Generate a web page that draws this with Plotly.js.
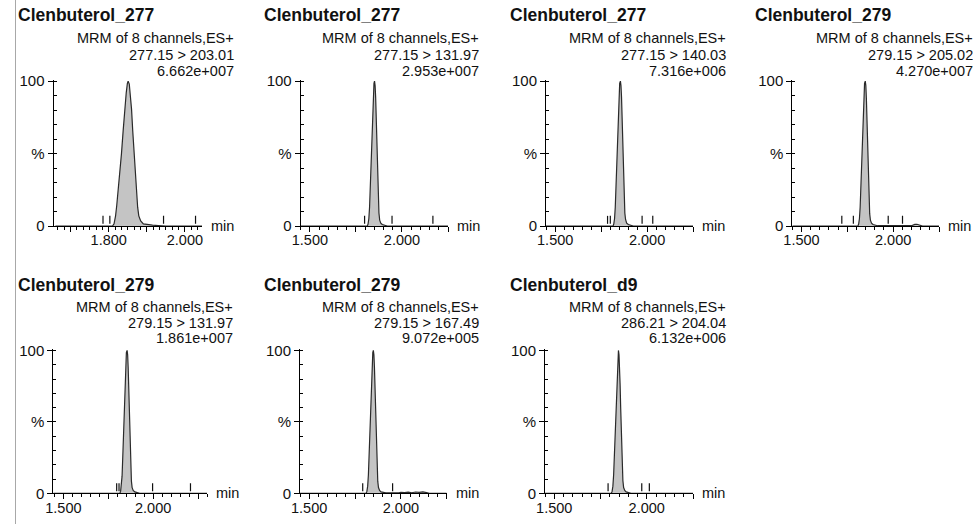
<!DOCTYPE html>
<html><head><meta charset="utf-8">
<script src="https://cdn.plot.ly/plotly-3.0.1.min.js"></script>
<style>html,body{margin:0;padding:0;background:#fff;} #chart{width:973px;height:524px;}</style>
</head><body><div id="chart"></div>
<script>
// ---- data ----
const compounds = ['Clenbuterol_277','Clenbuterol_277','Clenbuterol_277','Clenbuterol_279','Clenbuterol_279','Clenbuterol_279','Clenbuterol_d9'];
const transitions = ['277.15 > 203.01','277.15 > 131.97','277.15 > 140.03','279.15 > 205.02','279.15 > 131.97','279.15 > 167.49','286.21 > 204.04'];
const intensities = ['6.662e+007','2.953e+007','7.316e+006','4.270e+007','1.861e+007','9.072e+005','6.132e+006'];
const scanLabel = 'MRM of 8 channels,ES+';
const axisUnit = 'min';
const yTickVals = [0, 50, 100];
const yTickText = ['0', '%', '100'];
const xTickValsWide = [1.5, 1.75, 2.0, 2.25];
const xTickTextWide = ['1.500', '', '2.000', ''];
const xTickValsZoom = [1.7, 1.8, 1.9, 2.0];
const xTickTextZoom = ['', '1.800', '', '2.000'];

const rt1  = [1.660,1.810,1.814,1.818,1.821,1.8245,1.829,1.8335,1.838,1.842,1.846,1.849,1.851,1.854,1.857,1.860,1.863,1.867,1.870,1.873,1.876,1.879,1.884,1.891,1.900,1.915,1.930,1.950,2.045];
const pct1 = [0,0,1.5,7,14,23,36,50,66,80.5,92,98.5,100,98,91,80.5,66,50,35,23,13,7,3.5,1.5,1.0,0.6,0.3,0,0];
const marks1 = [1.785,1.803,1.944,2.028];

const rt2  = [1.450,1.812,1.816,1.820,1.824,1.828,1.832,1.836,1.840,1.844,1.848,1.851,1.854,1.857,1.860,1.863,1.866,1.869,1.872,1.875,1.879,1.885,1.893,1.905,1.920,2.250];
const pct2 = [0,0,1.5,5,13,27,44,62,78,91,98.5,100,97,89,76,60,43,28,17,9,4,2,1,0.5,0,0];
const marks2 = [1.797,1.946,2.168];

const rt3  = [1.450,1.815,1.819,1.823,1.827,1.831,1.835,1.839,1.843,1.847,1.851,1.855,1.858,1.861,1.864,1.867,1.870,1.873,1.876,1.879,1.883,1.889,1.898,1.912,1.925,2.250];
const pct3 = [0,0,1.5,5,13,27,45,63,79,91,98.5,100,97,89,76,60,43,28,17,9,4.5,2,1,0.5,0,0];
const marks3 = [1.785,1.800,1.973,2.031];

const rt4  = [1.450,1.808,1.812,1.816,1.820,1.824,1.828,1.832,1.836,1.840,1.844,1.848,1.851,1.854,1.857,1.860,1.863,1.866,1.869,1.872,1.876,1.882,1.890,1.902,1.915,2.100,2.108,2.118,2.130,2.142,2.152,2.160,2.250];
const pct4 = [0,0,1.5,5,13,27,45,63,79,91,98.5,100,97,88,75,59,42,27,16,8.5,4,2,1,0.5,0.2,0.2,0.8,1.1,1.2,0.9,0.3,0,0];
const marks4 = [1.720,1.783,1.973,2.051];

const rt5  = [1.444,1.815,1.819,1.823,1.827,1.831,1.835,1.839,1.843,1.847,1.851,1.855,1.858,1.861,1.864,1.867,1.870,1.873,1.876,1.879,1.883,1.889,1.898,1.910,1.925,2.300];
const pct5 = [0,0,1.5,5,12,26,44,62,78,91,98.5,100,97,88,75,59,42,27,16,8.5,4,2,1,0.5,0,0];
const marks5 = [1.797,1.810,1.997,2.208];

const rt6  = [1.450,1.811,1.815,1.819,1.823,1.827,1.831,1.835,1.839,1.843,1.847,1.850,1.853,1.856,1.859,1.862,1.865,1.868,1.871,1.874,1.878,1.884,1.892,1.904,1.918,1.990,2.000,2.020,2.040,2.060,2.080,2.100,2.120,2.140,2.155,2.250];
const pct6 = [0,0,1.5,5,13,27,45,63,79,91,98.5,100,97,88,75,59,42,27,16,8.5,4,2,1,0.6,0.3,0.3,0.7,0.5,0.8,0.4,0.9,0.6,1.0,0.5,0,0];
const marks6 = [1.792,1.955];

const rt7  = [1.450,1.809,1.813,1.817,1.821,1.825,1.829,1.833,1.837,1.841,1.844,1.847,1.850,1.853,1.856,1.859,1.862,1.865,1.868,1.871,1.875,1.881,1.889,1.900,1.915,2.250];
const pct7 = [0,0,1.5,5,13,27,45,63,79,91,98.5,100,97,89,76,60,43,28,17,9,4,2,1,0.5,0,0];
const marks7 = [1.791,1.973,2.014];

const rts = [rt1,rt2,rt3,rt4,rt5,rt6,rt7];
const pcts = [pct1,pct2,pct3,pct4,pct5,pct6,pct7];
const marks = [marks1,marks2,marks3,marks4,marks5,marks6,marks7];
const markLow = 1.5, markHigh = 7;

// ---- layout geometry (pixels) ----
const W = 973, H = 524;
const panels = [
  {x0:53.5, x1:202,   yTop:80,    yBot:226,   range:[1.655,2.045], zoom:true,  titleX:17,    infoR:235, rowY:[15,38,55,71]},
  {x0:300.7,x1:448,   yTop:80,    yBot:226,   range:[1.45,2.25],   zoom:false, titleX:262.7, infoR:480, rowY:[15,38,55,71]},
  {x0:546,  x1:693,   yTop:80,    yBot:226,   range:[1.45,2.25],   zoom:false, titleX:509,   infoR:727, rowY:[15,38,55,71]},
  {x0:792.3,x1:939,   yTop:80,    yBot:226,   range:[1.45,2.25],   zoom:false, titleX:754,   infoR:974, rowY:[15,38,55,71]},
  {x0:53.3, x1:207,   yTop:349.3, yBot:493.3, range:[1.444,2.30],  zoom:false, titleX:17,    infoR:234, rowY:[285,307,323,338]},
  {x0:300,  x1:446.7, yTop:349.3, yBot:493.3, range:[1.45,2.25],   zoom:false, titleX:262.7, infoR:480, rowY:[285,307,323,338]},
  {x0:545,  x1:693,   yTop:349.3, yBot:493.3, range:[1.45,2.25],   zoom:false, titleX:509.3, infoR:727, rowY:[285,307,323,338]}
];

const FONT = 'Liberation Sans, Arial, Helvetica, sans-serif';
const TXT = '#111111';
const traces = [];
const layout = {
  width: W, height: H, margin:{l:0,r:0,t:0,b:0},
  paper_bgcolor:'#ffffff', plot_bgcolor:'rgba(0,0,0,0)',
  showlegend:false, font:{family:FONT, color:TXT, size:14},
  annotations:[], shapes:[
    {type:'line', xref:'paper', yref:'paper', x0:15.5/W, x1:15.5/W, y0:0, y1:1, line:{color:'#a8a8a8', width:1}}
  ]
};

panels.forEach((p, i) => {
  const n = i + 1;
  const xa = n === 1 ? 'x' : 'x' + n;
  const ya = n === 1 ? 'y' : 'y' + n;
  traces.push({
    type:'scatter', mode:'lines', x: rts[i], y: pcts[i], xaxis: xa, yaxis: ya,
    fill:'tozeroy', fillcolor:'#c4c4c4', line:{color:'#2a2a2a', width:1.2}, hoverinfo:'skip'
  });
  const mx = [], my = [];
  marks[i].forEach(v => { mx.push(v, v, null); my.push(markLow, markHigh, null); });
  traces.push({
    type:'scatter', mode:'lines', x: mx, y: my, xaxis: xa, yaxis: ya,
    line:{color:'#111111', width:1.2}, hoverinfo:'skip', connectgaps:false
  });
  const xKey = n === 1 ? 'xaxis' : 'xaxis' + n;
  const yKey = n === 1 ? 'yaxis' : 'yaxis' + n;
  layout[xKey] = {
    domain:[p.x0/W, p.x1/W], anchor: ya, range: p.range,
    showline:true, linecolor:'#000', linewidth:1, showgrid:false, zeroline:false,
    ticks:'outside', ticklen:5, tickwidth:1, tickcolor:'#000',
    tickmode:'array',
    tickvals: p.zoom ? xTickValsZoom : xTickValsWide,
    ticktext: p.zoom ? xTickTextZoom : xTickTextWide,
    tickfont:{size:14.5, color:TXT, family:FONT},
    ticklabelstandoff:-4,
    minor:{ticks:'outside', ticklen:3, tickwidth:1, tickcolor:'#000',
           dtick: p.zoom ? 0.2/12 : 0.05, tick0: p.zoom ? 1.8 : 1.5, showgrid:false},
    fixedrange:true
  };
  layout[yKey] = {
    domain:[1 - p.yBot/H, 1 - p.yTop/H], anchor: xa, range:[0, 100.8],
    showline:true, linecolor:'#000', linewidth:1, showgrid:false, zeroline:false,
    ticks:'outside', ticklen:5, tickwidth:1, tickcolor:'#000',
    tickmode:'array', tickvals: yTickVals, ticktext: yTickText,
    tickfont:{size:15, color:TXT, family:FONT},
    minor:{ticks:'inside', ticklen:3, tickwidth:1, tickcolor:'#000', dtick:10, tick0:0, showgrid:false},
    fixedrange:true
  };
  // texts
  layout.annotations.push({xref:'paper', yref:'paper', x:p.titleX/W, y:1 - p.rowY[0]/H, xanchor:'left', yanchor:'middle',
    text:'<b>' + compounds[i] + '</b>', showarrow:false, borderpad:0, font:{size:17.5, family:FONT, color:TXT}});
  const info = [scanLabel, transitions[i], intensities[i]];
  info.forEach((t, k) => {
    layout.annotations.push({xref:'paper', yref:'paper', x:p.infoR/W, y:1 - p.rowY[k+1]/H, xanchor:'right', yanchor:'middle',
      text:t, showarrow:false, borderpad:0, font:{size:14.5, family:FONT, color:TXT}});
  });
  layout.annotations.push({xref:'paper', yref:'paper', x:(p.x1 + 8)/W, y:1 - p.yBot/H, xanchor:'left', yanchor:'middle',
    text:axisUnit, showarrow:false, borderpad:0, font:{size:14.5, family:FONT, color:TXT}});
});

Plotly.newPlot('chart', traces, layout, {staticPlot:true, displayModeBar:false});
</script>
</body></html>
